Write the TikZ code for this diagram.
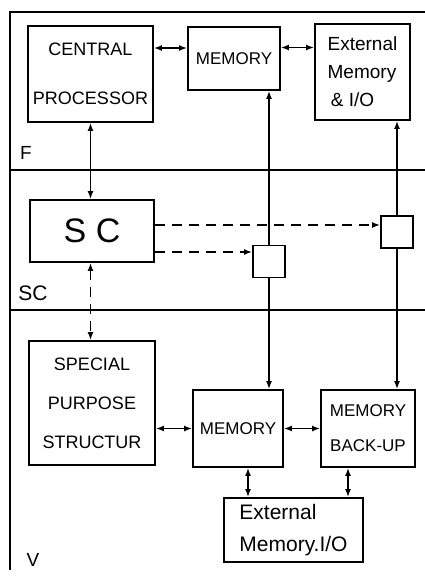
\documentclass[tikz,border=0pt]{standalone}
\usepackage{fontspec}
\setmainfont{Liberation Sans}
\usetikzlibrary{arrows.meta}

\begin{document}
\begin{tikzpicture}[x=1pt, y=-1pt, line width=1.8pt,
  >={Latex[length=8pt,width=6pt]},
  unit/.style={draw, inner sep=2pt, align=center},
  switchbox/.style={draw, fill=white, minimum size=32pt, inner sep=0pt},
  ctl/.style={dash pattern=on 10pt off 7pt},
  region/.style={font=\fontsize{19}{21}\selectfont}]

\useasboundingbox (0,0) rectangle (425,576);

% levels F, SC, V
\draw (425,12) -- (10,12) -- (10,570);
\draw (10,170) -- (425,170);
\draw (10,310) -- (425,310);

% F level
\node[unit, minimum width=125pt, minimum height=96pt, font=\fontsize{18}{49}\selectfont] (cpu) at (90.5,74) {CENTRAL\\PROCESSOR};
\node[unit, minimum width=92pt, minimum height=63pt, font=\fontsize{17}{19}\selectfont] (memtop) at (234,58.5) {MEMORY};
\node[unit, align=left, minimum width=95pt, minimum height=96pt, font=\fontsize{19}{28}\selectfont] (extio) at (362.5,72) {External\\Memory\\\,\& I/O};
\node[region] (lblF) at (26,153) {F};

% SC level
\node[unit, minimum width=124pt, minimum height=62pt, font=\fontsize{34}{36}\selectfont] (sc) at (92,231) {S C};
\node[switchbox] (swA) at (269,261.5) {};
\node[switchbox] (swB) at (397,232) {};
\node[region, font=\fontsize{21}{23}\selectfont] (lblSC) at (33,293) {SC};

% V level
\node[unit, minimum width=126pt, minimum height=124pt, font=\fontsize{18}{39}\selectfont] (spstruct) at (92,403) {SPECIAL\\PURPOSE\\STRUCTUR};
\node[unit, minimum width=90pt, minimum height=77pt, font=\fontsize{17}{19}\selectfont] (memlow) at (238,428.5) {MEMORY};
\node[unit, minimum width=94pt, minimum height=77pt, font=\fontsize{17}{35}\selectfont] (backup) at (368,428.5) {MEMORY\\BACK-UP};
\node[unit, align=left, minimum width=139pt, minimum height=64pt, font=\fontsize{21}{32}\selectfont] (extlow) at (293.5,530) {External\\Memory.I/O};
\node[region] (lblV) at (33,560) {V};

% data paths
\draw[<->] ([yshift=26pt]cpu.east) -- ([yshift=26pt]cpu.east -| memtop.west);
\draw[<->] ([yshift=11pt]memtop.east) -- ([yshift=11pt]memtop.east -| extio.west);
\draw[<->] (cpu.south) -- (cpu.south |- sc.north);
\draw[->] (swA.north) -- (swA.north |- memtop.south);
\draw[->] (swA.south) -- (swA.south |- memlow.north);
\draw[->] (swB.north) -- (swB.north |- extio.south);
\draw[->] (swB.south) -- (swB.south |- backup.north);
\draw[<->] (memlow.west) -- (memlow.west -| spstruct.east);
\draw[<->] (memlow.east) -- (memlow.east -| backup.west);
\draw[<->] ([xshift=10pt]memlow.south) -- ([xshift=10pt]memlow.south |- extlow.north);
\draw[<->] ([xshift=-20pt]backup.south) -- ([xshift=-20pt]backup.south |- extlow.north);

% control paths
\draw[<->, ctl] (cpu.south |- sc.south) -- (cpu.south |- spstruct.north);
\draw[->, ctl] ([yshift=6pt]sc.east) -- ([yshift=6pt]sc.east -| swB.west);
\draw[->, ctl] ([yshift=-21pt]sc.east) -- ([yshift=-21pt]sc.east -| swA.west);
\end{tikzpicture}
\end{document}
